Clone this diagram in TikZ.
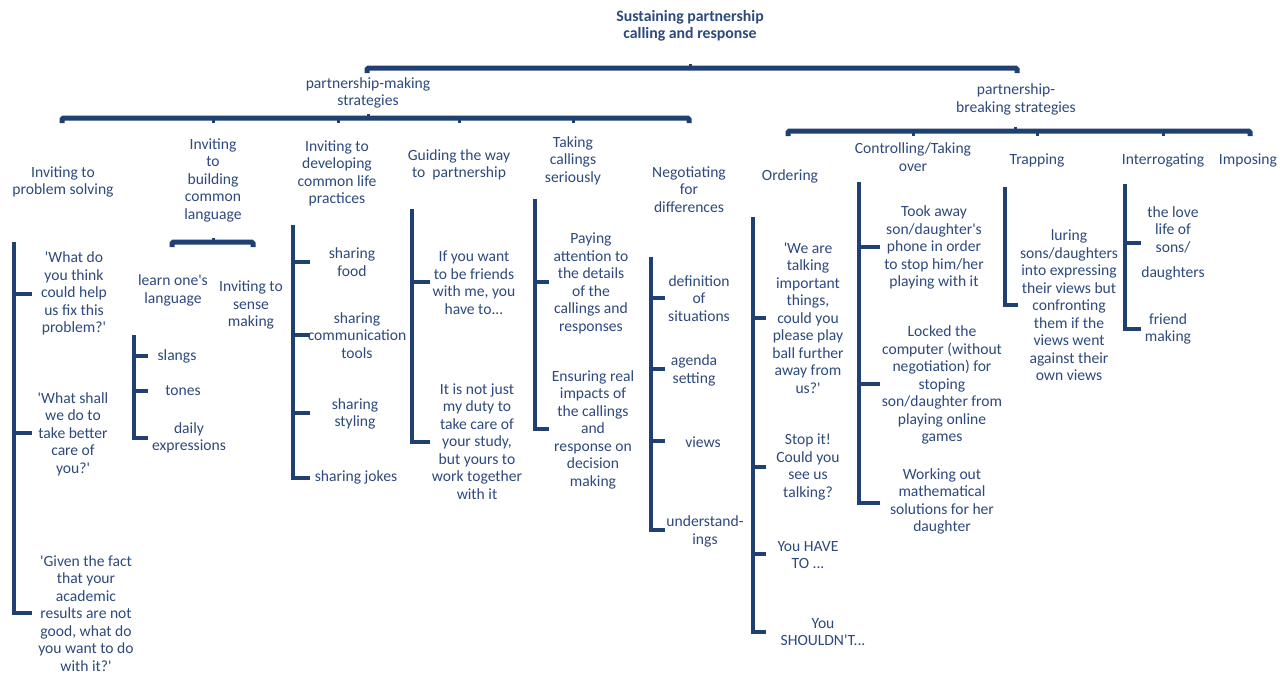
\documentclass[tikz,border=0pt]{standalone}
\usepackage{fontspec}
\setmainfont[Ligatures=TeXOff]{Carlito}
\definecolor{linec}{RGB}{31,64,113}
\definecolor{txtc}{RGB}{45,74,124}
\begin{document}
\begin{tikzpicture}[x=1pt,y=-1pt,
  lbl/.style={align=center,text=txtc,inner sep=0pt,font=\fontsize{15.6}{17.5}\selectfont},
  ttl/.style={align=center,text=txtc,inner sep=0pt,font=\bfseries\fontsize{15.8}{17.2}\selectfont},
  bar/.style={draw=linec,line width=5pt,rounded corners=1.5pt},
  brk/.style={draw=linec,line width=4.5pt,line join=miter},
  nub/.style={draw=linec,line width=3pt}]
\useasboundingbox[fill=white] (0,0) rectangle (1280,675);

% ---------- titles ----------
\node[ttl] (title) at (690,25.5) {Sustaining partnership\\calling and response};
\node[lbl] (pm) at (368,93) {partnership-making\\strategies};
\node[lbl] (pb) at (1016,99.5) {partnership-\\breaking strategies};

% ---------- headings ----------
\node[lbl] (h1) at (63,182) {Inviting to\\problem solving};
\node[lbl] (h2) at (213,180) {Inviting\\to\\building\\common\\language};
\node[lbl] (h3) at (337,173.5) {Inviting to\\developing\\common life\\practices};
\node[lbl] (h4) at (459,165) {Guiding the way\\to~ partnership};
\node[lbl] (h5) at (573,160.5) {Taking\\callings\\seriously};
\node[lbl] (h6) at (689,189.5) {Negotiating\\for\\differences};
\node[lbl] (b1) at (790,176) {Ordering};
\node[lbl] (b2) at (913,157) {Controlling/Taking\\over};
\node[lbl] (b3) at (1037,160) {Trapping};
\node[lbl] (b4) at (1163,160) {Interrogating};
\node[lbl] (b5) at (1248,160) {Imposing};

% ---------- leaves ----------
\node[lbl] (l11) at (74,293.5) {'What do\\you think\\could help\\us fix this\\problem?'};
\node[lbl] (l12) at (73,434) {'What shall\\we do to\\take better\\care of\\you?'};
\node[lbl] (l13) at (86,613.5) {'Given the fact\\that your\\academic\\results are not\\good, what do\\you want to do\\with it?'};

\node[lbl] (l21) at (173,290.5) {learn one's\\language};
\node[lbl] (l22) at (251,305) {Inviting to\\sense\\making};
\node[lbl] (l23) at (177,356) {slangs};
\node[lbl] (l24) at (183,391) {tones};
\node[lbl] (l25) at (189,438) {daily\\expressions};

\node[lbl] (l31) at (352,262) {sharing\\food};
\node[lbl] (l32) at (357,335.5) {sharing\\communication\\tools};
\node[lbl] (l33) at (355,414) {sharing\\styling};
\node[lbl] (l34) at (356,477) {sharing jokes};

\node[lbl] (l41) at (474,282.5) {If you want\\to be friends\\with me, you\\have to...};
\node[lbl] (l42) at (477,441.5) {It is not just\\my duty to\\take care of\\your study,\\but yours to\\work together\\with it};

\node[lbl] (l51) at (591,283.5) {Paying\\attention to\\the details\\of the\\callings and\\responses};
\node[lbl] (l52) at (593,429.5) {Ensuring real\\impacts of\\the callings\\and\\response on\\decision\\making};

\node[lbl] (l61) at (699,298.5) {definition\\of\\situations};
\node[lbl] (l62) at (694,370.5) {agenda\\setting};
\node[lbl] (l63) at (703,442) {views};
\node[lbl] (l64) at (705,531.5) {understand-\\ings};

\node[lbl] (l71) at (808,318) {'We are\\talking\\important\\things,\\could you\\please play\\ball further\\away from\\us?'};
\node[lbl] (l72) at (808,467) {Stop it!\\Could you\\see us\\talking?};
\node[lbl] (l73) at (808,555) {You HAVE\\TO ...};
\node[lbl] (l74) at (823,632) {You\\SHOULDN'T...};

\node[lbl] (l81) at (934,247.5) {Took away\\son/daughter's\\phone in order\\to stop him/her\\playing with it};
\node[lbl] (l82) at (942,385) {Locked the\\computer (without\\negotiation) for\\stoping\\son/daughter from\\playing online\\games};
\node[lbl] (l83) at (942,501.5) {Working out\\mathematical\\solutions for her\\daughter};

\node[lbl] (l91) at (1069,305.5) {luring\\sons/daughters\\into expressing\\their views but\\confronting\\them if the\\views went\\against their\\own views};

\node[lbl] (l101) at (1173,243) {the love\\life of\\sons/\\[7.5pt]daughters};
\node[lbl] (l102) at (1168,329) {friend\\making};

% ---------- top-level bars ----------
\draw[bar] (367,73) -- (367,68) -- (1017,68) -- (1017,73);
\draw[nub] (690,68) -- (690,63.5);
\draw[bar] (62,123) -- (62,118) -- (689,118) -- (689,123);
\draw[nub] (368,118) -- (368,113.5);
\foreach \x in {213,338,459,573} \draw[nub] (\x,118) -- (\x,122.5);
\draw[bar] (788,136) -- (788,131) -- (1250,131) -- (1250,136);
\draw[nub] (1015,131) -- (1015,126.5);
\foreach \x in {913,1037,1163} \draw[nub] (\x,131) -- (\x,135.5);

% ---------- brackets ----------
% problem solving
\draw[brk] (14,242) -- (14,613) -- (32,613);
\foreach \y in {294,433} \draw[brk] (14,\y) -- (32,\y);
% common language
\draw[bar] (172,247) -- (172,242) -- (253,242) -- (253,247);
\draw[nub] (213,242) -- (213,237.5);
\draw[brk] (134,335) -- (134,438) -- (148,438);
\foreach \y in {356,391} \draw[brk] (134,\y) -- (148,\y);
% common life practices
\draw[brk] (293,225) -- (293,478) -- (310,478);
\foreach \y in {262,335,413} \draw[brk] (293,\y) -- (310,\y);
% guiding the way
\draw[brk] (412,209) -- (412,442) -- (430,442);
\draw[brk] (412,282) -- (430,282);
% taking callings seriously
\draw[brk] (535,199) -- (535,429) -- (549,429);
\draw[brk] (535,282) -- (549,282);
% negotiating
\draw[brk] (651,257) -- (651,530) -- (665,530);
\foreach \y in {298,369,441} \draw[brk] (651,\y) -- (665,\y);
% ordering
\draw[brk] (753,217) -- (753,632) -- (766,632);
\foreach \y in {318,467,554} \draw[brk] (753,\y) -- (766,\y);
% controlling
\draw[brk] (859,182) -- (859,503) -- (880,503);
\foreach \y in {247,384} \draw[brk] (859,\y) -- (880,\y);
% trapping
\draw[brk] (1005,187) -- (1005,305) -- (1018,305);
% interrogating
\draw[brk] (1125,184) -- (1125,329) -- (1141,329);
\draw[brk] (1125,243) -- (1141,243);
\end{tikzpicture}
\end{document}
